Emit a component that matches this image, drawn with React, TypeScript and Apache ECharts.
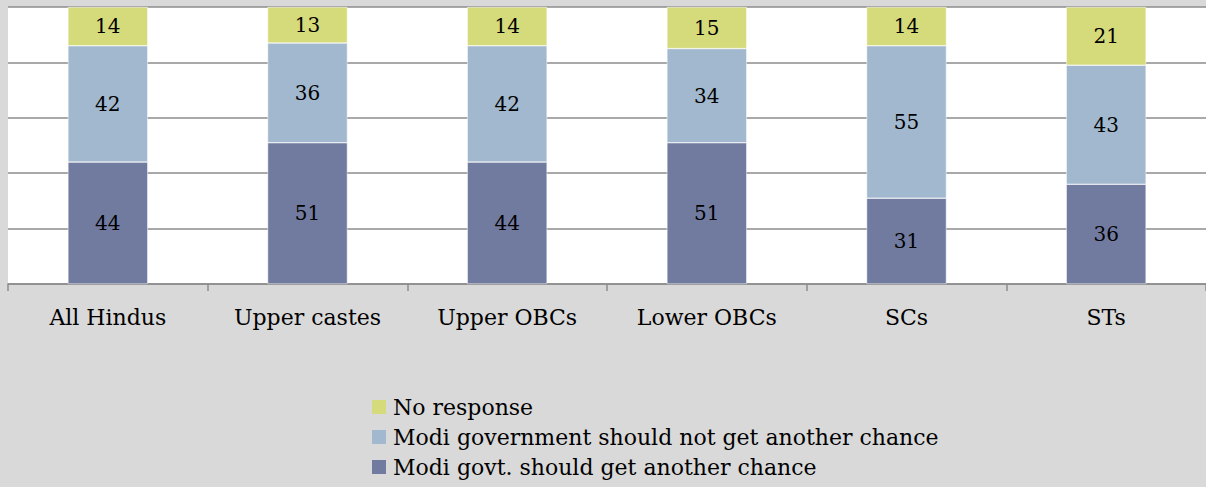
import React, { useEffect, useRef } from "react";
import * as echarts from "echarts";

const categories = ["All Hindus", "Upper castes", "Upper OBCs", "Lower OBCs", "SCs", "STs"];
const shouldGetChance = [44, 51, 44, 51, 31, 36];
const shouldNotGetChance = [42, 36, 42, 34, 55, 43];
const noResponse = [14, 13, 14, 15, 14, 21];
const seriesNames = [
  "Modi govt. should get another chance",
  "Modi government should not get another chance",
  "No response",
];
const yTicks = { min: 0, max: 100, interval: 20 };

const FONT = "DejaVu Serif";

export default function App() {
  const ref = useRef<HTMLDivElement>(null);
  useEffect(() => {
    if (!ref.current) return;
    const chart = echarts.init(ref.current, undefined, { renderer: "svg" });
    const mk = (name: string, data: number[], color: string) => ({
      name,
      type: "bar",
      stack: "total",
      data,
      barWidth: "40%",
      itemStyle: { color, borderColor: "#ffffff", borderWidth: 0.5 },
      label: {
        show: true,
        position: "inside",
        color: "#000",
        fontFamily: FONT,
        fontSize: 20,
      },
    });
    chart.setOption({
      animation: false,
      backgroundColor: "#d9d9d9",
      textStyle: { fontFamily: FONT },
      grid: {
        left: 8,
        top: 7,
        width: 1200,
        height: 277,
        show: true,
        backgroundColor: "#ffffff",
        borderWidth: 0,
      },
      xAxis: {
        type: "category",
        data: categories,
        boundaryGap: true,
        axisLine: { lineStyle: { color: "#8c8c8c", width: 1.5 } },
        axisTick: { show: true, interval: 0, length: 7, lineStyle: { color: "#8c8c8c", width: 1.5 } },
        axisLabel: { interval: 0, hideOverlap: false, color: "#000", fontFamily: FONT, fontSize: 22, margin: 22 },
      },
      yAxis: {
        type: "value",
        min: yTicks.min,
        max: yTicks.max,
        interval: yTicks.interval,
        axisLabel: { show: false },
        axisLine: { show: false },
        axisTick: { show: false },
        splitLine: { lineStyle: { color: "#8c8c8c", width: 1.5 } },
      },
      legend: {
        orient: "vertical",
        left: 367,
        top: 391,
        height: 110,
        itemWidth: 14,
        itemHeight: 14,
        itemGap: 8,
        icon: "rect",
        itemStyle: { borderWidth: 0 },
        data: [seriesNames[2], seriesNames[1], seriesNames[0]],
        textStyle: { color: "#000", fontFamily: FONT, fontSize: 22, padding: [0, 0, 0, 2] },
      },
      series: [
        mk(seriesNames[0], shouldGetChance, "#717ba0"),
        mk(seriesNames[1], shouldNotGetChance, "#a1b8ce"),
        mk(seriesNames[2], noResponse, "#d5da7a"),
      ],
    });
    return () => chart.dispose();
  }, []);
  return (
    <div
      ref={ref}
      style={{ position: "fixed", left: 0, top: 0, width: 1206, height: 487 }}
    />
  );
}
